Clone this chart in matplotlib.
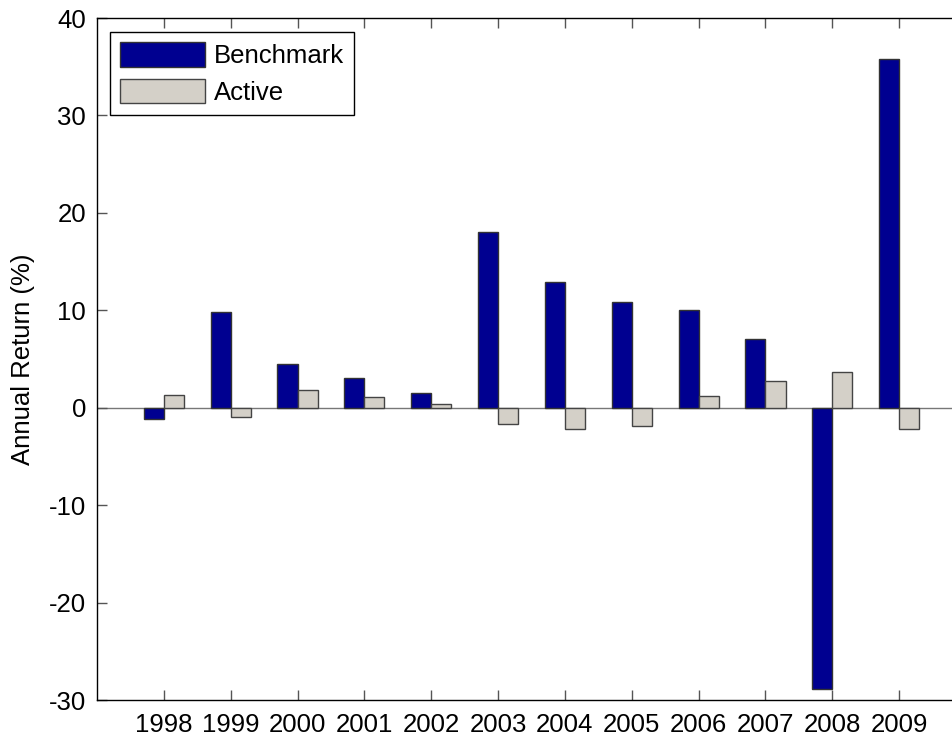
import matplotlib
matplotlib.use("Agg")
import matplotlib.pyplot as plt
import numpy as np

years = [1998, 1999, 2000, 2001, 2002, 2003, 2004, 2005, 2006, 2007, 2008, 2009]
benchmark = [-1.2, 9.8, 4.5, 3.0, 1.5, 18.0, 12.9, 10.8, 10.0, 7.1, -28.9, 35.8]
active = [1.3, -1.0, 1.8, 1.1, 0.4, -1.7, -2.2, -1.9, 1.2, 2.7, 3.7, -2.2]
yticks = [-30, -20, -10, 0, 10, 20, 30, 40]

plt.rcParams['font.family'] = ['Liberation Sans', 'DejaVu Sans']
plt.rcParams['axes.unicode_minus'] = False

W, H = 953, 738
fig = plt.figure(figsize=(W / 100, H / 100), dpi=100)
left, right, top, bottom = 97, 966, 18, 700
ax = fig.add_axes([left / W, (H - bottom) / H, (right - left) / W, (bottom - top) / H])

x = np.array(years, dtype=float)
w = 0.3
ax.bar(x - w / 2, benchmark, width=w, color='#000090', edgecolor='#333333', linewidth=1.0, label='Benchmark', zorder=2)
ax.bar(x + w / 2, active, width=w, color='#D4D0C8', edgecolor='#444444', linewidth=1.0, label='Active', zorder=2)
ax.axhline(0, color='#777777', linewidth=1.0, zorder=1)

fs = 18.5
ax.set_xlim(1997, 2010)
ax.set_ylim(-30, 40)
ax.set_xticks(years)
ax.set_xticklabels([str(y) for y in years])
ax.set_yticks(yticks)
ax.tick_params(direction='in', length=7, width=1, color='#555555', labelsize=fs, top=True, pad=8)
ax.tick_params(axis='x', pad=9)
for s in ['left', 'bottom', 'top']:
    ax.spines[s].set_linewidth(1.0)
ax.spines['right'].set_visible(False)
ax.set_ylabel('Annual Return (%)', fontsize=fs, labelpad=10)

leg = ax.legend(loc='upper left', bbox_to_anchor=((110 - left) / (right - left), 1 - (32 - top) / (bottom - top)),
                fontsize=fs, fancybox=False, framealpha=1, edgecolor='black', borderaxespad=0,
                handlelength=3.3, handleheight=1.1, borderpad=0.4, labelspacing=0.4, handletextpad=0.35)
leg.get_frame().set_linewidth(1.0)

fig.savefig('out.png', dpi=100)
